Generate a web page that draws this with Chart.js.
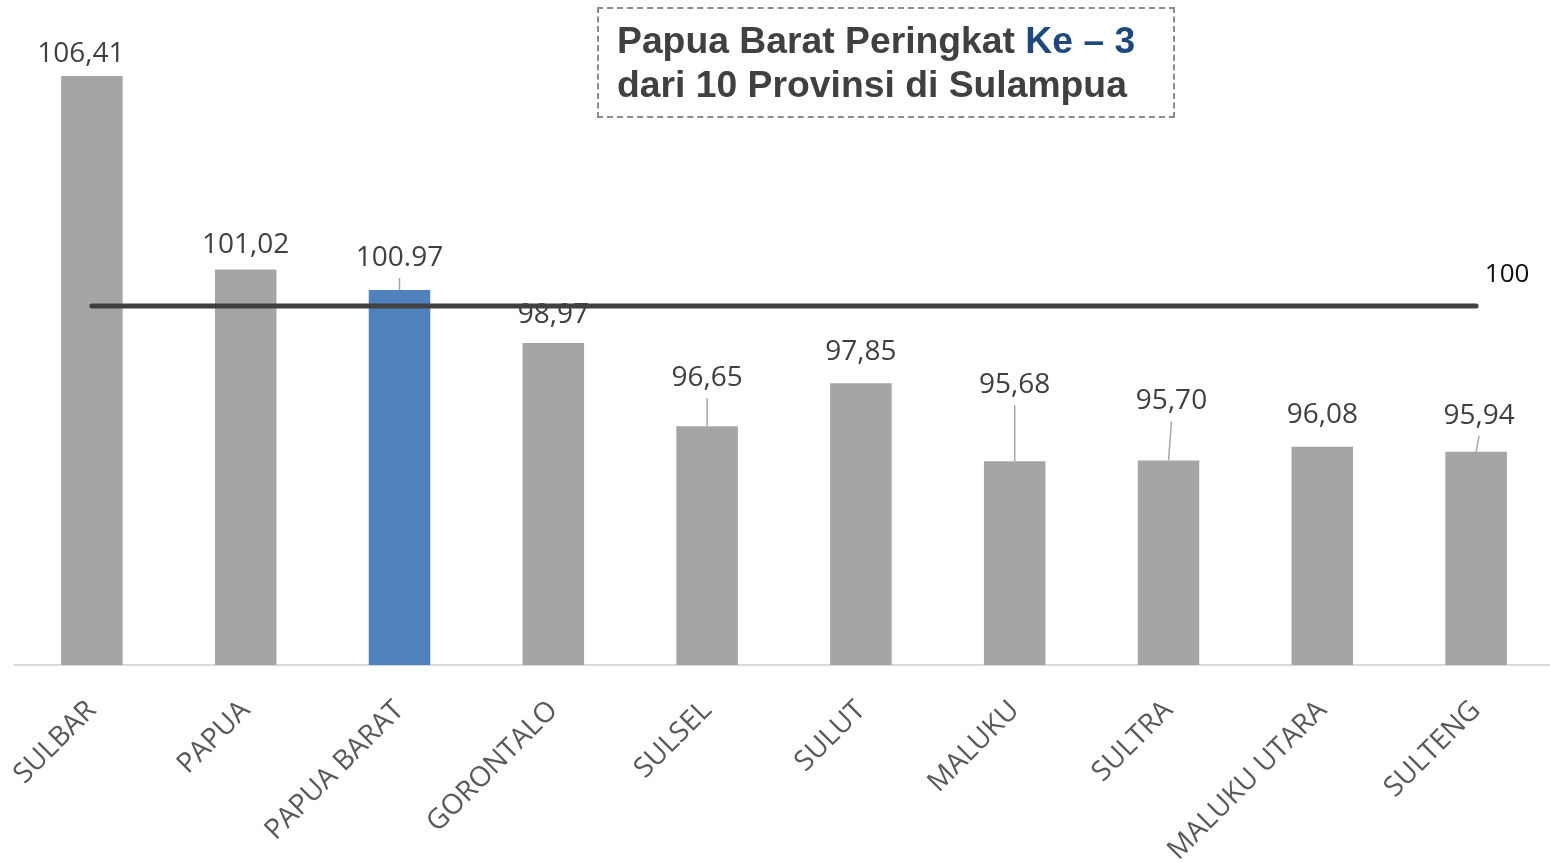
<!DOCTYPE html>
<html>
<head>
<meta charset="utf-8">
<title>Papua Barat Peringkat Ke - 3</title>
<script src="https://cdn.jsdelivr.net/npm/chart.js@4.4.1/dist/chart.umd.min.js"></script>
<style>
	body {
		margin: 0;
		background: #ffffff;
	}
	#wrap {
		position: relative;
		width: 1550px;
		height: 862px;
		overflow: hidden;
	}
	#note {
		position: absolute;
		left: 597px;
		top: 7px;
		width: 556px;
		height: 98px;
		padding: 9px 0 0 18px;
		border: 2px dashed #8c8c8c;
		box-sizing: content-box;
		font-family: "Liberation Sans", Arial, sans-serif;
		font-weight: bold;
		font-size: 37.3px;
		line-height: 44px;
		color: #404040;
		white-space: nowrap;
	}
	#note span {
		color: #1f497d;
	}
</style>
</head>
<body>
<div id="wrap">
	<canvas id="chart" width="1553" height="862"></canvas>
	<div id="note">Papua Barat Peringkat <span>Ke – 3</span><br>dari 10 Provinsi di Sulampua</div>
</div>
<script>
const provinces = ["SULBAR", "PAPUA", "PAPUA BARAT", "GORONTALO", "SULSEL", "SULUT", "MALUKU", "SULTRA", "MALUKU UTARA", "SULTENG"];
// bar heights as drawn in the picture (the PAPUA BARAT bar sits lower than its label says)
const values = [106.41, 101.02, 100.45, 98.97, 96.65, 97.85, 95.68, 95.70, 96.08, 95.94];
const valueLabels = ["106,41", "101,02", "100.97", "98,97", "96,65", "97,85", "95,68", "95,70", "96,08", "95,94"];
const highlighted = "PAPUA BARAT";
const referenceValue = 100;
const referenceLabel = "100";

// how far each value label sits above its bar, and which ones get a leader line
const labelLift = [24, 27, 34, 30, 50, 33, 78, 61, 34, 38];
const labelShift = [-11, 0, 0, 0, 0, 0, 0, 3, 0, 3];
const leaderLine = [false, false, true, false, true, false, true, true, false, true];

const barLabels = {
	id: "barLabels",
	afterDatasetDraw(chart, args) {
		const ctx = chart.ctx;
		if (args.index === 0) {
			ctx.save();
			ctx.font = "28px 'Open Sans'";
			ctx.textAlign = "center";
			ctx.textBaseline = "alphabetic";
			args.meta.data.forEach((bar, i) => {
				const x = bar.x + labelShift[i];
				const y = bar.y - labelLift[i];
				if (leaderLine[i]) {
					ctx.strokeStyle = "#a6a6a6";
					ctx.lineWidth = 1.5;
					ctx.beginPath();
					ctx.moveTo(x, y + 22);
					ctx.lineTo(bar.x, bar.y);
					ctx.stroke();
				}
				ctx.fillStyle = "#404040";
				ctx.fillText(valueLabels[i], x, y + 10);
			});
			ctx.restore();
		}
		if (args.index === 1) {
			const points = args.meta.data;
			const last = points[points.length - 1];
			ctx.save();
			ctx.font = "26px 'Open Sans'";
			ctx.textAlign = "center";
			ctx.textBaseline = "alphabetic";
			ctx.fillStyle = "#0d0d0d";
			ctx.fillText(referenceLabel, last.x + 31, last.y - 24);
			ctx.restore();
		}
	}
};

function drawChart() {
	const context = document.getElementById("chart").getContext("2d");
	const options = {
		type: "bar",
		data: {
			labels: provinces,
			datasets: [
				{
					type: "bar",
					data: values,
					backgroundColor: provinces.map(p => p === highlighted ? "#4f81bd" : "#a5a5a5"),
					categoryPercentage: 1,
					barPercentage: 0.4,
					order: 2
				},
				{
					type: "line",
					data: provinces.map(_ => referenceValue),
					borderColor: "#404040",
					borderWidth: 5,
					borderCapStyle: "round",
					pointRadius: 0,
					fill: false,
					order: 1
				}
			]
		},
		options: {
			responsive: false,
			animation: false,
			layout: {
				padding: {
					left: 15,
					top: 19,
					right: 0,
					bottom: 0
				}
			},
			plugins: {
				legend: {
					display: false
				},
				tooltip: {
					enabled: false
				}
			},
			scales: {
				x: {
					grid: {
						display: false
					},
					border: {
						display: true,
						color: "#d9d9d9",
						width: 2
					},
					ticks: {
						autoSkip: false,
						maxRotation: 45,
						minRotation: 45,
						padding: 21,
						color: "#595959",
						font: {
							family: "'Open Sans'",
							size: 28
						}
					},
					afterFit: scale => {
						scale.height = 197;
						scale.paddingLeft = 0;
						scale.paddingRight = 0;
					}
				},
				y: {
					display: false,
					min: 90,
					max: 108
				}
			}
		},
		plugins: [barLabels]
	};
	new Chart(context, options);
}

document.addEventListener("DOMContentLoaded", _ => drawChart());
</script>
</body>
</html>
